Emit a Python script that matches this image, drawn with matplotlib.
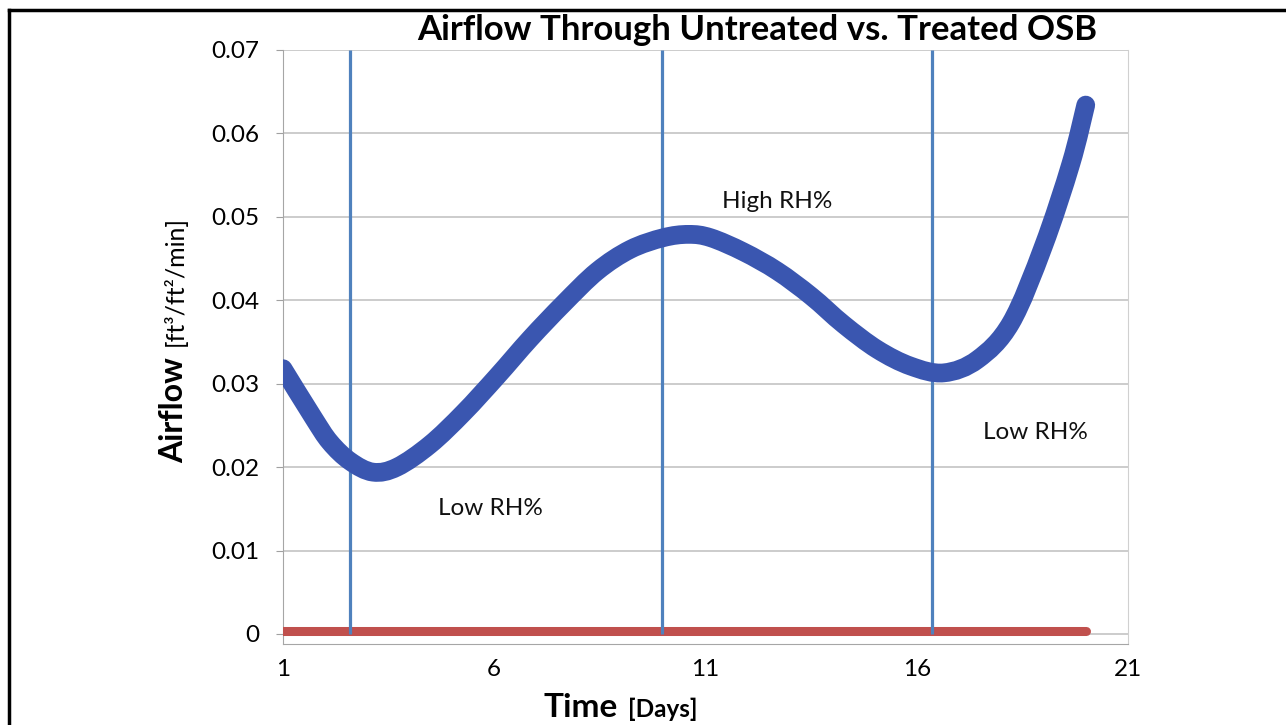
import matplotlib
matplotlib.use("Agg")
import matplotlib.pyplot as plt
from matplotlib.lines import Line2D
from matplotlib.path import Path
from matplotlib.patches import PathPatch

plt.rcParams['font.family'] = ['Lato', 'DejaVu Sans']

# untreated OSB
untreated_days = [1.0, 1.71, 2.11, 2.59, 3.13, 3.70, 4.48, 5.27, 6.07, 6.85,
                  7.64, 8.44, 9.22, 10.0, 10.6, 11.12, 11.9, 12.7, 13.5,
                  14.27, 15.07, 15.86, 16.64, 17.44, 18.23, 19.0, 19.65, 20.0]
untreated_airflow = [0.0318, 0.0260, 0.0230, 0.0207, 0.0194, 0.0200, 0.0227,
                     0.0265, 0.0309, 0.0354, 0.0396, 0.0435, 0.0461, 0.0475,
                     0.0479, 0.0475, 0.0458, 0.0435, 0.0405, 0.0371, 0.0341, 0.0321,
                     0.0313, 0.0329, 0.0373, 0.0465, 0.0564, 0.0634]

# treated OSB
treated_days = [1, 2, 3, 4, 5, 6, 7, 8, 9, 10, 11, 12, 13, 14, 15, 16, 17, 18, 19, 20]
treated_airflow = [0.0003, 0.0003, 0.0003, 0.0003, 0.0003, 0.0003, 0.0003, 0.0003,
                   0.0003, 0.0003, 0.0003, 0.0003, 0.0003, 0.0003, 0.0003, 0.0003,
                   0.0003, 0.0003, 0.0003, 0.0003]

rh_change_days = [2.58, 9.98, 16.36]
notes = ["Low RH%", "High RH%", "Low RH%"]
note_x = [5.92, 12.69, 18.82]
note_y = [0.0150, 0.0518, 0.0241]

x_ticks = [1, 6, 11, 16, 21]
y_ticks = [0, 0.01, 0.02, 0.03, 0.04, 0.05, 0.06, 0.07]
y_ticklabels = ["0", "0.01", "0.02", "0.03", "0.04", "0.05", "0.06", "0.07"]


def smooth_path(xs, ys):
    # smoothed line like the spreadsheet one: bezier segments through every point
    pts = list(zip(xs, ys))
    verts = [pts[0]]
    codes = [Path.MOVETO]
    n = len(pts)
    for i in range(n - 1):
        p0 = pts[max(i - 1, 0)]
        p1 = pts[i]
        p2 = pts[i + 1]
        p3 = pts[min(i + 2, n - 1)]
        c1 = (p1[0] + (p2[0] - p0[0]) / 6, p1[1] + (p2[1] - p0[1]) / 6)
        c2 = (p2[0] - (p3[0] - p1[0]) / 6, p2[1] - (p3[1] - p1[1]) / 6)
        verts += [c1, c2, p2]
        codes += [Path.CURVE4] * 3
    return Path(verts, codes)


fig = plt.figure(figsize=(12.86, 7.25), dpi=100)
W, H = 1286, 725
ax = fig.add_axes([283 / W, 1 - 644 / H, (1128 - 283) / W, (644 - 50) / H])

ax.set_xlim(1, 21)
ax.set_ylim(-0.0012, 0.07)

ax.plot(treated_days, treated_airflow, color="#C0504D", lw=6.5,
        solid_capstyle="round", zorder=3)
ax.vlines(rh_change_days, 0, 0.07, color="#4F81BD", lw=2.3, zorder=4)
ax.add_patch(PathPatch(smooth_path(untreated_days, untreated_airflow), fill=False,
                       edgecolor="#3A56B0", lw=13.5, capstyle="round",
                       joinstyle="round", zorder=5))

for t, x, y in zip(notes, note_x, note_y):
    ax.text(x, y, t, fontsize=17.5, ha="center", va="center", color="#111111", zorder=6)

ax.set_yticks(y_ticks)
ax.set_yticklabels(y_ticklabels)
ax.set_xticks(x_ticks)
ax.grid(axis="y", color="#BEBEBE", lw=1.1, zorder=0)
ax.tick_params(axis="y", length=5, color="#A0A0A0", pad=12, labelsize=17.5)
ax.tick_params(axis="x", length=0, pad=11, labelsize=17.5)
ax.spines["top"].set_visible(False)
ax.spines["left"].set_color("#A6A6A6")
ax.spines["bottom"].set_color("#A6A6A6")
ax.spines["right"].set_color("#D0D0D0")

# title and axis labels
fig.text(757 / W, 1 - 30 / H, "Airflow Through Untreated vs. Treated OSB",
         fontsize=25, fontweight="bold", ha="center", va="center")

fig.text(183 / W, 1 - 463 / H, "Airflow", fontsize=23, fontweight="bold",
         rotation=90, rotation_mode="anchor", ha="left", va="baseline")
fig.text(183 / W, 1 - 346 / H, "[ft\u00b3/ft\u00b2/min]", fontsize=18,
         rotation=90, rotation_mode="anchor", ha="left", va="baseline")

fig.text(543 / W, 1 - 717 / H, "Time", fontsize=24, fontweight="bold",
         ha="left", va="baseline")
fig.text(628 / W, 1 - 717 / H, "[Days]", fontsize=17.5, fontweight="bold",
         ha="left", va="baseline")

# frame round the figure
fig.add_artist(Line2D([9 / W, 1.0], [1 - 10 / H, 1 - 10 / H], color="black", lw=2.5,
                      transform=fig.transFigure))
fig.add_artist(Line2D([9 / W, 9 / W], [0.0, 1 - 10 / H], color="black", lw=2.5,
                      transform=fig.transFigure))

fig.savefig("out.png", dpi=100)
